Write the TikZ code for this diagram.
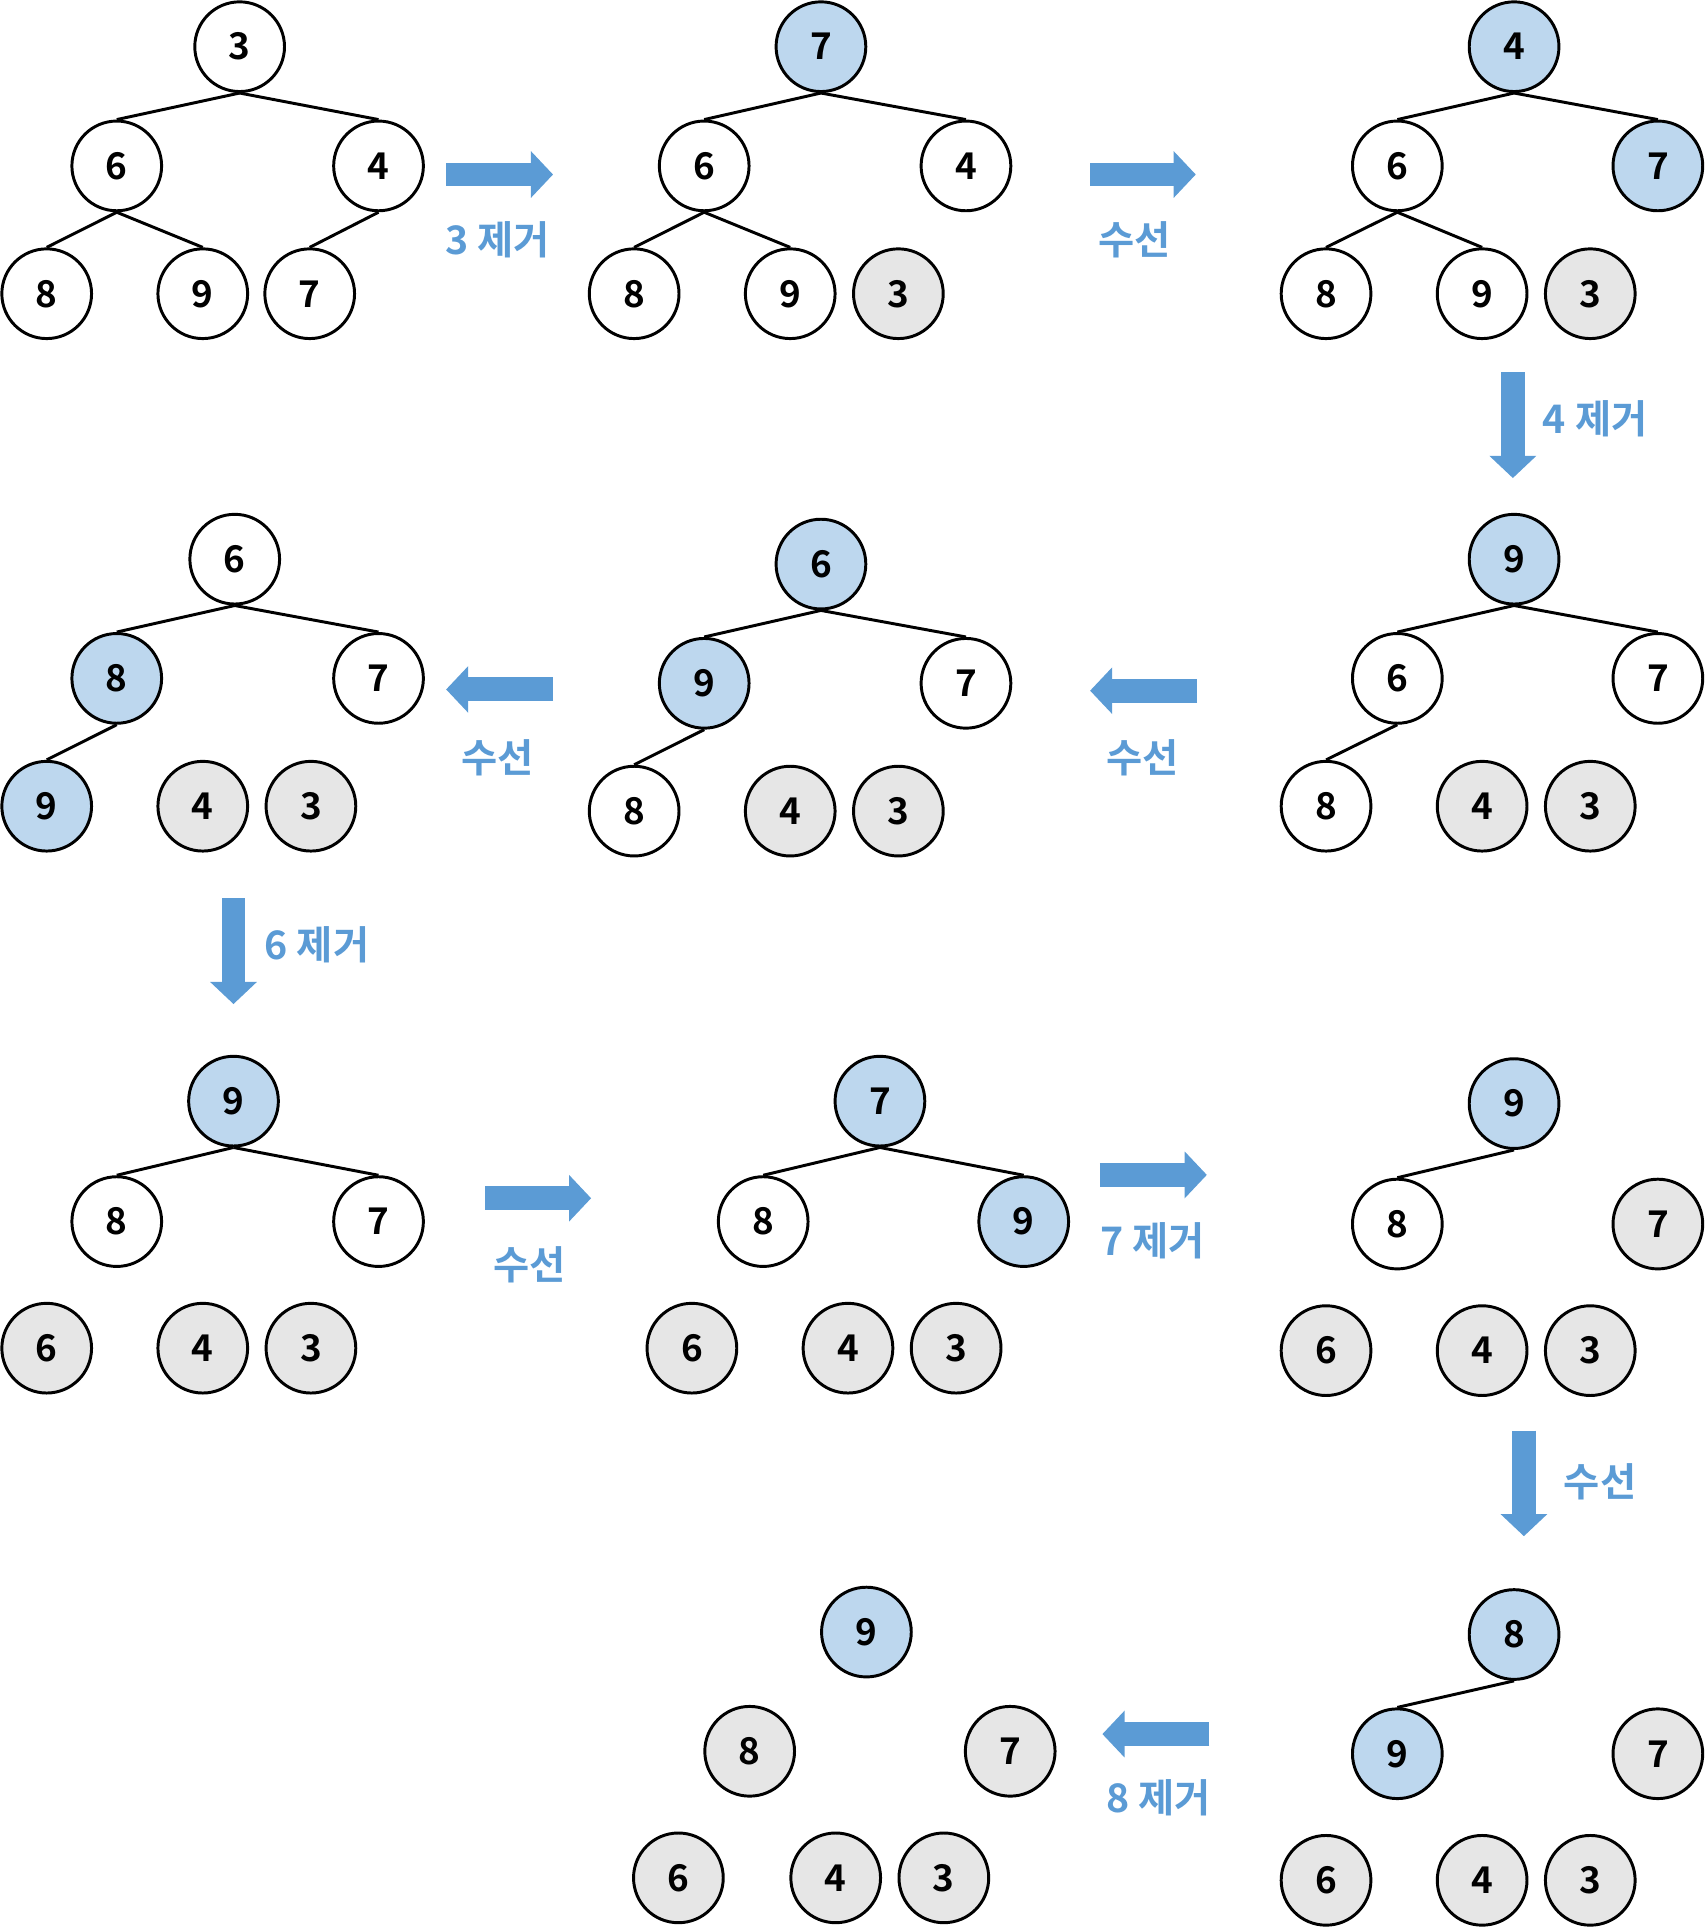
\documentclass[tikz,border=0pt]{standalone}
\usepackage{fontspec}
\setmainfont{Noto Sans CJK KR}[BoldFont={* Bold}]
\usetikzlibrary{arrows.meta}
\definecolor{arrblue}{HTML}{5B9BD5}
\definecolor{selblue}{HTML}{BDD7EE}
\definecolor{donegray}{HTML}{E6E6E6}

\begin{document}
\begin{tikzpicture}[x=0.5pt, y=-0.5pt,
  heapkey/.style={circle, draw, fill=white, line width=1.2pt, minimum size=36.5pt, inner sep=0pt,
    font=\bfseries\fontsize{15}{15}\selectfont},
  swapped/.style={heapkey, fill=selblue},
  removed/.style={heapkey, fill=donegray},
  link/.style={line width=1.2pt},
  bigarrow/.style={draw=arrblue, line width=9.75pt, -{Triangle[length=9pt, width=18.5pt]}},
  caption/.style={text=arrblue, font=\bfseries\fontsize{16}{16}\selectfont}]
\useasboundingbox (0,0) rectangle (1388,1568);
% heap a
\node[heapkey](a3)at(195,38){3};
\node[heapkey](a6)at(95,135){6};
\node[heapkey](a4)at(308,135){4};
\node[heapkey](a8)at(38,239){8};
\node[heapkey](a9)at(165,239){9};
\node[heapkey](a7)at(252,239){7};
\draw[link](a3.south)--(a6.north);
\draw[link](a3.south)--(a4.north);
\draw[link](a6.south)--(a8.north);
\draw[link](a6.south)--(a9.north);
\draw[link](a4.south)--(a7.north);
% heap b
\node[swapped](b7)at(668,38){7};
\node[heapkey](b6)at(573,135){6};
\node[heapkey](b4)at(786,135){4};
\node[heapkey](b8)at(516,239){8};
\node[heapkey](b9)at(643,239){9};
\node[removed](b3)at(731,239){3};
\draw[link](b7.south)--(b6.north);
\draw[link](b7.south)--(b4.north);
\draw[link](b6.south)--(b8.north);
\draw[link](b6.south)--(b9.north);
% heap c
\node[swapped](c4)at(1232,38){4};
\node[heapkey](c6)at(1137,135){6};
\node[swapped](c7)at(1349,135){7};
\node[heapkey](c8)at(1079,239){8};
\node[heapkey](c9)at(1206,239){9};
\node[removed](c3)at(1294,239){3};
\draw[link](c4.south)--(c6.north);
\draw[link](c4.south)--(c7.north);
\draw[link](c6.south)--(c8.north);
\draw[link](c6.south)--(c9.north);
% heap d
\node[swapped](d9)at(1232,455){9};
\node[heapkey](d6)at(1137,552){6};
\node[heapkey](d7)at(1349,552){7};
\node[heapkey](d8)at(1079,656){8};
\node[removed](d4)at(1206,656){4};
\node[removed](d3)at(1294,656){3};
\draw[link](d9.south)--(d6.north);
\draw[link](d9.south)--(d7.north);
\draw[link](d6.south)--(d8.north);
% heap e
\node[swapped](e6)at(668,459){6};
\node[swapped](e9)at(573,556){9};
\node[heapkey](e7)at(786,556){7};
\node[heapkey](e8)at(516,660){8};
\node[removed](e4)at(643,660){4};
\node[removed](e3)at(731,660){3};
\draw[link](e6.south)--(e9.north);
\draw[link](e6.south)--(e7.north);
\draw[link](e9.south)--(e8.north);
% heap f
\node[heapkey](f6)at(191,455){6};
\node[swapped](f8)at(95,552){8};
\node[heapkey](f7)at(308,552){7};
\node[swapped](f9)at(38,656){9};
\node[removed](f4)at(165,656){4};
\node[removed](f3)at(253,656){3};
\draw[link](f6.south)--(f8.north);
\draw[link](f6.south)--(f7.north);
\draw[link](f8.south)--(f9.north);
% heap g
\node[swapped](g9)at(190,896){9};
\node[heapkey](g8)at(95,994){8};
\node[heapkey](g7)at(308,994){7};
\node[removed](g6)at(38,1097){6};
\node[removed](g4)at(165,1097){4};
\node[removed](g3)at(253,1097){3};
\draw[link](g9.south)--(g8.north);
\draw[link](g9.south)--(g7.north);
% heap h
\node[swapped](h7)at(716,896){7};
\node[heapkey](h8)at(621,994){8};
\node[swapped](h9)at(833,994){9};
\node[removed](h6)at(563,1097){6};
\node[removed](h4)at(690,1097){4};
\node[removed](h3)at(778,1097){3};
\draw[link](h7.south)--(h8.north);
\draw[link](h7.south)--(h9.north);
% heap i
\node[swapped](i9)at(1232,898){9};
\node[heapkey](i8)at(1137,996){8};
\node[removed](i7)at(1349,996){7};
\node[removed](i6)at(1079,1099){6};
\node[removed](i4)at(1206,1099){4};
\node[removed](i3)at(1294,1099){3};
\draw[link](i9.south)--(i8.north);
% heap j
\node[swapped](j8)at(1232,1330){8};
\node[swapped](j9)at(1137,1427){9};
\node[removed](j7)at(1349,1427){7};
\node[removed](j6)at(1079,1530){6};
\node[removed](j4)at(1206,1530){4};
\node[removed](j3)at(1294,1530){3};
\draw[link](j8.south)--(j9.north);
% heap k
\node[swapped](k9)at(705,1328){9};
\node[removed](k8)at(610,1425){8};
\node[removed](k7)at(822,1425){7};
\node[removed](k6)at(552,1528){6};
\node[removed](k4)at(680,1528){4};
\node[removed](k3)at(768,1528){3};
% step arrows
\coordinate(s1)at(363,142);\coordinate(t1)at(450,142);
\coordinate(s2)at(887,142);\coordinate(t2)at(973,142);
\coordinate(s3)at(1231,303);\coordinate(t3)at(1231,389);
\coordinate(s4)at(974,562);\coordinate(t4)at(887,562);
\coordinate(s5)at(450,561);\coordinate(t5)at(363,561);
\coordinate(s6)at(190,731);\coordinate(t6)at(190,817);
\coordinate(s7)at(395,975);\coordinate(t7)at(481,975);
\coordinate(s8)at(895,956);\coordinate(t8)at(982,956);
\coordinate(s9)at(1240,1164);\coordinate(t9)at(1240,1250);
\coordinate(s10)at(984,1411);\coordinate(t10)at(897,1411);
\draw[bigarrow](s1)--(t1);
\draw[bigarrow](s2)--(t2);
\draw[bigarrow](s3)--(t3);
\draw[bigarrow](s4)--(t4);
\draw[bigarrow](s5)--(t5);
\draw[bigarrow](s6)--(t6);
\draw[bigarrow](s7)--(t7);
\draw[bigarrow](s8)--(t8);
\draw[bigarrow](s9)--(t9);
\draw[bigarrow](s10)--(t10);
% captions
\node[caption](l1)at(405,195){3 제거};
\node[caption](l2)at(923,195){수선};
\node[caption](l3)at(1298,341){4 제거};
\node[caption](l4)at(930,617){수선};
\node[caption](l5)at(405,617){수선};
\node[caption](l6)at(258,769){6 제거};
\node[caption](l7)at(431,1029){수선};
\node[caption](l8)at(938,1010){7 제거};
\node[caption](l9)at(1302,1206){수선};
\node[caption](l10)at(943,1463){8 제거};
\end{tikzpicture}
\end{document}
